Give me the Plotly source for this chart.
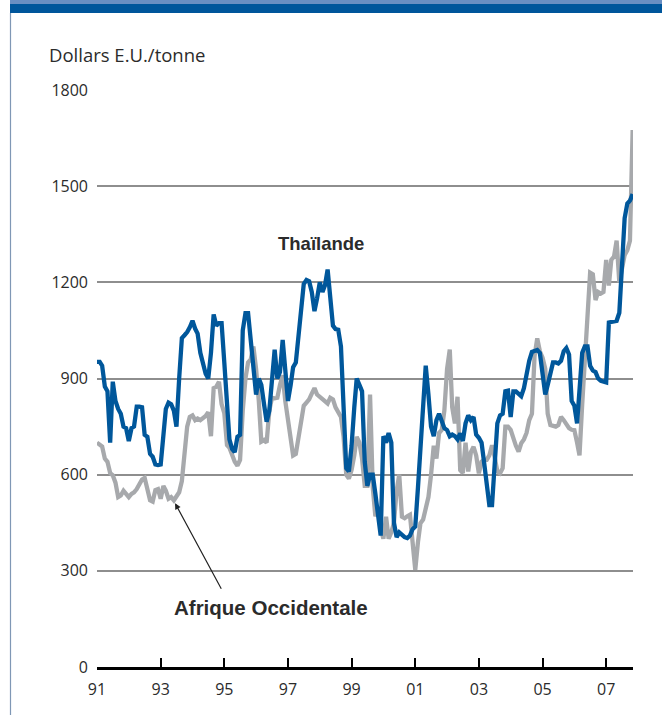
import pandas as pd
import plotly.graph_objects as go

# ---- Data (monthly, Jan 1991 - Nov 2007), US$/tonne ----
thai_1991 = [952, 952, 940, 875, 860, 700, 890, 830, 805, 790, 750, 745]
thai_1992 = [705, 745, 750, 812, 812, 810, 724, 718, 665, 656, 632, 630]
thai_1993 = [632, 730, 805, 825, 820, 800, 750, 900, 1026, 1035, 1045, 1060]
thai_1994 = [1080, 1055, 1040, 980, 945, 915, 900, 980, 1100, 1065, 1073, 1073]
thai_1995 = [950, 820, 710, 680, 670, 718, 724, 1050, 1104, 1104, 1010, 920]
thai_1996 = [850, 900, 880, 820, 765, 800, 880, 990, 900, 920, 1020, 926]
thai_1997 = [830, 880, 935, 950, 1040, 1140, 1195, 1207, 1203, 1170, 1110, 1150]
thai_1998 = [1200, 1170, 1190, 1240, 1150, 1065, 1054, 1052, 1000, 810, 620, 610]
thai_1999 = [690, 810, 900, 880, 860, 640, 565, 600, 600, 540, 470, 410]
thai_2000 = [720, 700, 730, 700, 450, 405, 420, 410, 405, 402, 410, 430]
thai_2001 = [438, 560, 680, 850, 940, 850, 750, 720, 770, 790, 770, 745]
thai_2002 = [739, 720, 725, 720, 710, 729, 705, 760, 785, 770, 780, 725]
thai_2003 = [715, 700, 640, 580, 505, 505, 640, 760, 785, 790, 860, 862]
thai_2004 = [780, 860, 860, 850, 845, 870, 920, 955, 983, 985, 989, 980]
thai_2005 = [910, 850, 880, 915, 950, 950, 947, 955, 985, 995, 975, 830]
thai_2006 = [815, 760, 880, 980, 1000, 1000, 940, 925, 920, 900, 893, 890]
thai_2007 = [888, 1075, 1077, 1077, 1080, 1105, 1250, 1400, 1446, 1455, 1475]

afr_1991 = [700, 695, 688, 650, 640, 605, 598, 575, 530, 535, 550, 540]
afr_1992 = [530, 540, 545, 555, 570, 585, 590, 560, 520, 516, 552, 555]
afr_1993 = [525, 565, 550, 525, 530, 520, 535, 545, 580, 660, 750, 780]
afr_1994 = [785, 770, 775, 770, 775, 783, 795, 720, 870, 874, 890, 820]
afr_1995 = [792, 692, 684, 660, 640, 628, 646, 800, 900, 950, 960, 1000]
afr_1996 = [930, 830, 703, 708, 700, 800, 840, 838, 840, 880, 910, 830]
afr_1997 = [770, 700, 660, 665, 718, 770, 815, 825, 835, 853, 870, 850]
afr_1998 = [842, 838, 830, 822, 840, 835, 810, 795, 780, 718, 600, 588]
afr_1999 = [615, 660, 718, 700, 650, 565, 565, 850, 560, 470, 500, 430]
afr_2000 = [400, 469, 400, 420, 450, 550, 600, 469, 464, 470, 475, 390]
afr_2001 = [303, 390, 448, 460, 500, 530, 600, 690, 650, 730, 740, 800]
afr_2002 = [930, 990, 810, 760, 843, 614, 605, 700, 610, 670, 687, 660]
afr_2003 = [604, 640, 646, 646, 660, 692, 655, 610, 604, 620, 750, 750]
afr_2004 = [740, 710, 690, 672, 698, 710, 730, 770, 790, 970, 1025, 985]
afr_2005 = [965, 930, 790, 755, 752, 750, 755, 780, 770, 755, 745, 740]
afr_2006 = [739, 700, 660, 820, 960, 1100, 1230, 1225, 1145, 1170, 1165, 1170]
afr_2007 = [1270, 1190, 1270, 1280, 1330, 1200, 1250, 1285, 1300, 1330, 1675]

tick_years = ["1991", "1993", "1995", "1997", "1999", "2001", "2003", "2005", "2007"]
tick_labels = ["91", "93", "95", "97", "99", "01", "03", "05", "07"]
y_ticks = [0, 300, 600, 900, 1200, 1500, 1800]

thai = (thai_1991 + thai_1992 + thai_1993 + thai_1994 + thai_1995 + thai_1996 +
        thai_1997 + thai_1998 + thai_1999 + thai_2000 + thai_2001 + thai_2002 +
        thai_2003 + thai_2004 + thai_2005 + thai_2006 + thai_2007)
afr = (afr_1991 + afr_1992 + afr_1993 + afr_1994 + afr_1995 + afr_1996 +
       afr_1997 + afr_1998 + afr_1999 + afr_2000 + afr_2001 + afr_2002 +
       afr_2003 + afr_2004 + afr_2005 + afr_2006 + afr_2007)
dates = pd.date_range("1991-01-01", periods=len(thai), freq="MS")

# ---- Layout geometry (pixels) ----
W, H = 662, 715
L, R, T, B = 97, 29, 90, 48
PW, PH = W - L - R, H - T - B


def px(x):
    return (x - L) / PW


def py(y):
    return (H - B - y) / PH


BLUE = "#00579b"
GREY = "#a7a9ac"
TXT = "#2b2b2b"
FONT = "Open Sans"

fig = go.Figure()
fig.add_trace(go.Scatter(x=dates, y=afr, mode="lines",
                         line=dict(color=GREY, width=4.3), hoverinfo="skip"))
fig.add_trace(go.Scatter(x=dates, y=thai, mode="lines",
                         line=dict(color=BLUE, width=4.3), hoverinfo="skip"))

fig.update_layout(
    width=W, height=H,
    margin=dict(l=L, r=R, t=T, b=B, pad=0),
    paper_bgcolor="white", plot_bgcolor="white",
    showlegend=False,
    font=dict(family=FONT, size=16, color=TXT),
)
fig.update_xaxes(
    type="date",
    range=["1991-01-01", "2007-11-05"],
    tickvals=[pd.Timestamp(y + "-01-01") for y in tick_years],
    ticktext=tick_labels,
    showgrid=False, zeroline=False,
    showline=True, linecolor="black", linewidth=3,
    ticks="inside", ticklen=9, tickwidth=2, tickcolor="black",
    ticklabelstandoff=6,
    tickfont=dict(family=FONT, size=16, color=TXT),
)
fig.update_yaxes(
    range=[0, 1800],
    tickvals=y_ticks,
    showgrid=True, gridcolor="#8e8e8e", gridwidth=1.5,
    zeroline=False, showline=False, ticks="",
    ticklabelstandoff=8,
    tickfont=dict(family=FONT, size=16, color=TXT),
)

shapes = [
    dict(type="rect", xref="paper", yref="paper", x0=px(10), x1=px(W), y0=py(4), y1=py(0),
         fillcolor="#6a8fc2", line=dict(width=0), layer="above"),
    dict(type="rect", xref="paper", yref="paper", x0=px(10), x1=px(W), y0=py(13), y1=py(4),
         fillcolor="#00569b", line=dict(width=0), layer="above"),
    dict(type="line", xref="paper", yref="paper", x0=px(10.5), x1=px(10.5), y0=py(H), y1=py(13),
         line=dict(color="#7f97b5", width=1.2), layer="above"),
]
fig.update_layout(shapes=shapes)

annotations = [
    dict(text="Dollars E.U./tonne", xref="paper", yref="paper", x=px(47), y=py(54),
         xanchor="left", yanchor="middle", showarrow=False,
         font=dict(family=FONT, size=18.5, color=TXT)),
    dict(text="<b>Thaïlande</b>", xref="x", yref="y", x="1998-01-10", y=1322,
         xanchor="center", yanchor="middle", showarrow=False,
         font=dict(family="Liberation Sans", size=18.5, color=TXT)),
    dict(text="<b>Afrique Occidentale</b>", xref="x", yref="y", x="1996-06-25", y=187,
         xanchor="center", yanchor="middle", showarrow=False,
         font=dict(family="Liberation Sans", size=20.5, color=TXT)),
    dict(text="", xref="x", yref="y", x="1993-06-15", y=511, ax=47, ay=87,
         showarrow=True, arrowhead=2, arrowsize=1, arrowwidth=1.2, arrowcolor="#222"),
]
fig.update_layout(annotations=annotations)

fig.write_html("out.html", config={"displayModeBar": False},
               post_script="document.body.style.margin='0';document.body.style.overflow='hidden';")
